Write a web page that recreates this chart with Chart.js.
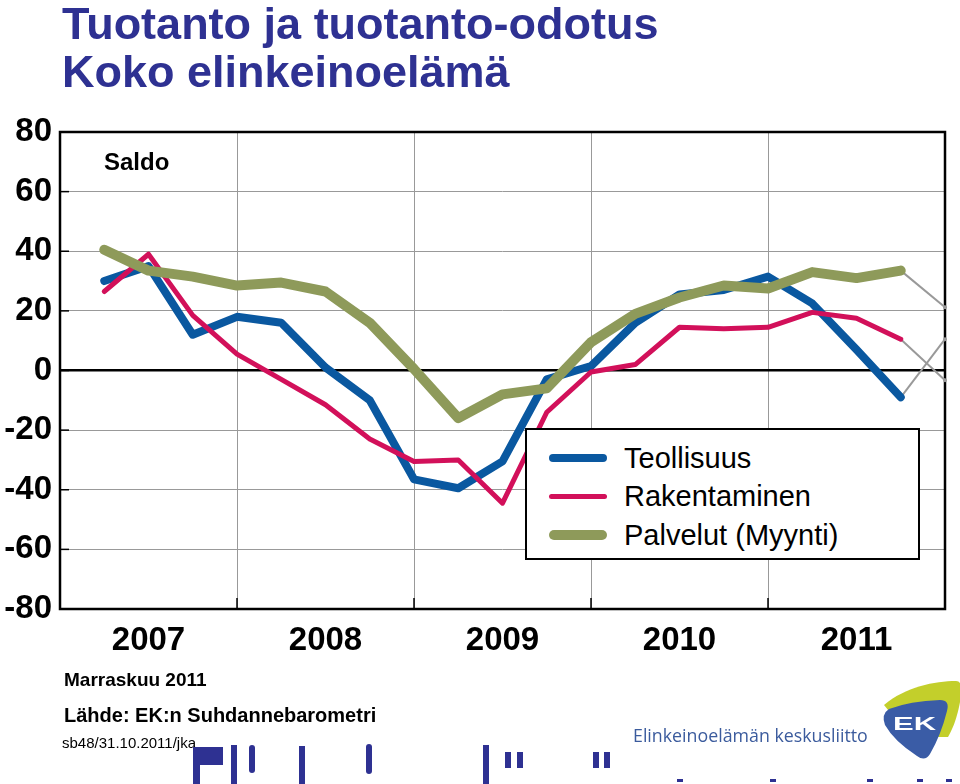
<!DOCTYPE html>
<html>
<head>
<meta charset="utf-8">
<script src="https://cdn.jsdelivr.net/npm/chart.js@4.4.1/dist/chart.umd.min.js"></script>
<style>
  body { margin: 0; background: #fff; font-family: "Liberation Sans", Arial, sans-serif; }
  #wrap { position: relative; width: 960px; height: 784px; overflow: hidden; }
  #chart { position: absolute; left: 0; top: 0; }
  .t { position: absolute; white-space: nowrap; line-height: 1; color: #000; }
  #title { left: 62px; top: 0; font-size: 45px; line-height: 48px; font-weight: bold; color: #2e3192; }
  #legend { position: absolute; left: 525px; top: 428px; width: 391px; height: 128px;
            border: 2px solid #000; background: #fff; }
  .row { position: absolute; left: 0; height: 36px; display: flex; align-items: center; }
  .row span.sw { display: block; width: 58px; margin-left: 22px; border-radius: 6px; }
  .row span.lb { margin-left: 17px; font-size: 29px; }
  .bar { position: absolute; background: #2e3192; }
  #logotext { left: 633px; top: 727px; font-family: "Open Sans", sans-serif; font-size: 17.8px; color: #3b5b9d; }
</style>
</head>
<body>
<div id="wrap">
  <canvas id="chart" width="960" height="784"></canvas>
  <div id="title" class="t">Tuotanto ja tuotanto-odotus<br>Koko elinkeinoelämä</div>
  <div class="t" style="left:104px; top:150px; font-size:24px; font-weight:bold;">Saldo</div>
  <div id="legend"></div>
  <div class="t" style="left:64px; top:670px; font-size:19px; font-weight:bold;">Marraskuu 2011</div>
  <div class="t" style="left:64px; top:705px; font-size:20px; font-weight:bold;">Lähde: EK:n Suhdannebarometri</div>
  <div class="t" style="left:62px; top:735px; font-size:15px;">sb48/31.10.2011/jka</div>
  <div id="logotext" class="t">Elinkeinoelämän keskusliitto</div>
  <svg style="position:absolute; left:870px; top:675px;" width="90" height="100">
    <path d="M14,30 C35,12 65,6 86,6 C93,6 92,18 89,32 C86,46 82,55 78,62 L40,62 Z" fill="#c3cf2b"/>
    <path d="M19,34 Q40,26 70,25 Q80,25 77,36 Q71,60 60,79 Q55,87 47,81 Q24,66 15,50 Q11,39 19,34 Z" fill="#3a5ca6"/>
    <text x="23" y="55" font-family="Liberation Sans" font-weight="bold" font-size="19" fill="#fff"
          textLength="43" lengthAdjust="spacingAndGlyphs">EK</text>
  </svg>
  <div class="bar" style="left:193px; top:747px; width:30px; height:18px;"></div>
  <div class="bar" style="left:193px; top:747px; width:7px; height:37px;"></div>
  <div class="bar" style="left:231px; top:745px; width:6px; height:39px;"></div>
  <div class="bar" style="left:249px; top:745px; width:6px; height:28px; border-radius:3px;"></div>
  <div class="bar" style="left:299px; top:746px; width:6px; height:38px;"></div>
  <div class="bar" style="left:366px; top:744px; width:6px; height:30px; border-radius:3px;"></div>
  <div class="bar" style="left:483px; top:745px; width:6px; height:39px;"></div>
  <div class="bar" style="left:505px; top:752px; width:6px; height:16px;"></div>
  <div class="bar" style="left:517px; top:752px; width:6px; height:16px;"></div>
  <div class="bar" style="left:593px; top:752px; width:6px; height:16px;"></div>
  <div class="bar" style="left:604px; top:752px; width:6px; height:16px;"></div>
  <div class="bar" style="left:677px; top:779px; width:6px; height:3px;"></div>
  <div class="bar" style="left:770px; top:779px; width:6px; height:3px;"></div>
  <div class="bar" style="left:867px; top:779px; width:6px; height:3px;"></div>
  <div class="bar" style="left:917px; top:779px; width:6px; height:3px;"></div>
  <div class="bar" style="left:946px; top:779px; width:6px; height:3px;"></div>
</div>
<script>
// neljännesvuodet 2007Q1 ... 2011Q3, x = 1..19, 2011Q4 ennuste x = 20
var years = ["2007", "2008", "2009", "2010", "2011"];
var teollisuus = [30, 35, 12, 18, 16, 1, -10, -36.5, -39.5, -30.5, -3, 1.5, 16, 25.5, 27, 31.5, 22.5, 7, -9];
var rakentaminen = [26.5, 39, 18.5, 5.5, -3, -11.5, -23, -30.5, -30, -44.5, -14, -0.5, 2, 14.5, 14, 14.5, 19.5, 17.5, 10.5];
var palvelut = [40.5, 33.5, 31.5, 28.5, 29.5, 26.5, 16, 0.5, -16, -8, -6, 9.5, 19, 24.5, 28.5, 27.5, 33, 31, 33.5];
// odotus seuraavalle neljännekselle
var ennuste = [10.5, -3.3, 21.2];

var FONT = '"Liberation Sans", Arial, sans-serif';
Chart.defaults.font.family = FONT;

function pts(arr) {
  return arr.map(function(v, i) { return { x: i + 1, y: v }; });
}
function fc(arr, next) {
  var n = arr.length;
  return [{ x: n, y: arr[n - 1] }, { x: n + 1, y: next }];
}

function line(label, data, color, width, order) {
  return {
    label: label, data: data, borderColor: color, backgroundColor: color,
    borderWidth: width, pointRadius: 0, borderJoinStyle: "round", borderCapStyle: "round",
    order: order, tension: 0
  };
}
function grey(data) {
  return {
    label: "", data: data, borderColor: "#999", backgroundColor: "#999", borderWidth: 2,
    pointRadius: 2, pointBorderWidth: 0, pointBackgroundColor: "#999", order: 5, forecast: true
  };
}

// kehys ja sisäänpäin osoittavat tikit
var frame = {
  id: "frame",
  beforeDatasetsDraw: function(chart) {
    var a = chart.chartArea, c = chart.ctx, xs = chart.scales.x, ys = chart.scales.y;
    c.save();
    c.strokeStyle = "#000";
    c.lineWidth = 1.5;
    ys.ticks.forEach(function(t) {
      var y = ys.getPixelForValue(t.value);
      c.beginPath(); c.moveTo(a.left, y); c.lineTo(a.left + 9, y); c.stroke();
    });
    xs.ticks.forEach(function(t) {
      if (t.value % 4 === 0 && t.value > 0 && t.value < 20) {
        var x = xs.getPixelForValue(t.value);
        c.beginPath(); c.moveTo(x, a.bottom); c.lineTo(x, a.bottom - 11); c.stroke();
      }
    });
    c.lineWidth = 2.5;
    c.strokeRect(a.left, a.top, a.right - a.left, a.bottom - a.top);
    c.restore();
  }
};

var chart = new Chart(document.getElementById("chart"), {
  type: "line",
  data: {
    datasets: [
      line("Teollisuus", pts(teollisuus), "#0a58a0", 8, 3),
      line("Rakentaminen", pts(rakentaminen), "#d2105a", 5, 2),
      line("Palvelut (Myynti)", pts(palvelut), "#8e9a5a", 10, 1),
      grey(fc(teollisuus, ennuste[0])),
      grey(fc(rakentaminen, ennuste[1])),
      grey(fc(palvelut, ennuste[2]))
    ]
  },
  options: {
    responsive: false,
    animation: false,
    clip: false,
    layout: { padding: { left: 0, right: 15, top: 132, bottom: 0 } },
    plugins: { legend: { display: false }, tooltip: { enabled: false } },
    scales: {
      x: {
        type: "linear", min: 0, max: 20,
        ticks: {
          stepSize: 2, autoSkip: false, maxRotation: 0, padding: 12, color: "#000",
          font: { size: 33, weight: "bold" },
          callback: function(v) { return (v - 2) % 4 === 0 ? years[(v - 2) / 4] : ""; }
        },
        grid: {
          drawTicks: false, lineWidth: 1,
          color: function(ctx) { return ctx.tick && ctx.tick.value % 4 === 0 ? "#999" : "rgba(0,0,0,0)"; }
        },
        border: { display: false },
        afterFit: function(s) { s.height = 175; }
      },
      y: {
        min: -80, max: 80,
        ticks: { stepSize: 20, padding: 8, color: "#000", font: { size: 33, weight: "bold" } },
        grid: {
          drawTicks: false,
          color: function(ctx) { return ctx.tick && ctx.tick.value === 0 ? "#000" : "#999"; },
          lineWidth: function(ctx) { return ctx.tick && ctx.tick.value === 0 ? 2.5 : 1; }
        },
        border: { display: false },
        afterFit: function(s) { s.width = 60; }
      }
    }
  },
  plugins: [frame]
});

// selite
var legend = document.getElementById("legend");
var tops = [10, 48, 87];
chart.data.datasets.filter(function(d) { return !d.forecast; }).forEach(function(d, i) {
  var row = document.createElement("div");
  row.className = "row";
  row.style.top = tops[i] + "px";
  row.innerHTML = '<span class="sw" style="height:' + d.borderWidth + 'px;background:' + d.borderColor + '"></span>' +
                  '<span class="lb">' + d.label + '</span>';
  legend.appendChild(row);
});
</script>
</body>
</html>
